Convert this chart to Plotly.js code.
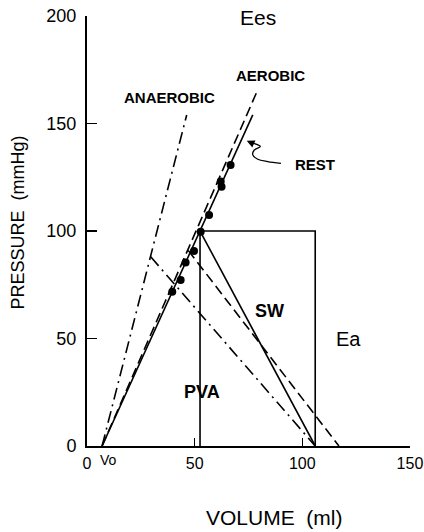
<!DOCTYPE html>
<html>
<head>
<meta charset="utf-8">
<script src="https://cdn.plot.ly/plotly-3.0.1.min.js"></script>
<style>html,body{margin:0;padding:0;background:#fff;}#chart{width:424px;height:532px;}</style>
</head>
<body>
<div id="chart"></div>
<script>
// ---- data (volume in ml, pressure in mmHg) ----
const vo = 7;
// end-systolic P-V relations (Ees)
const restEesX = [vo, 77];
const restEesY = [0, 154];
const aerobicEesX = [vo, 79];
const aerobicEesY = [0, 165];
const anaerobicEesX = [vo, 46.3];
const anaerobicEesY = [0, 154];
// arterial elastance lines (Ea)
const restEaX = [52.5, 106];
const restEaY = [100, 0];
const aerobicEaX = [47, 117];
const aerobicEaY = [91, 0];
const anaerobicEaX = [29.6, 106];
const anaerobicEaY = [88, 0];
// rest pressure-volume loop (rectangle)
const loopX = [52.5, 52.5, 106, 106];
const loopY = [0, 100, 100, 0];
// measured end-systolic points
const dotX = [39.6, 43.5, 45.8, 49.7, 52.8, 56.7, 62.1, 62.5, 66.7];
const dotY = [71.8, 77.2, 85.3, 90.7, 99.7, 107.4, 123, 120.6, 130.7];
// squiggle pointer for REST label
const restPtrX = [90.1, 83.9, 79.3, 77.0, 77.7, 80.5, 76.2];
const restPtrY = [131.5, 132.3, 133.4, 135.4, 137.7, 139.3, 141.1];
// tick labels
const xTicks = [0, 50, 100, 150];
const yTicks = [0, 50, 100, 150, 200];

const FONT = "Liberation Sans, Arial, Helvetica, sans-serif";
const LW = 1.6;

function line(x, y, dash) {
  return {x: x, y: y, type: 'scatter', mode: 'lines',
    line: {color: '#000', width: LW, dash: dash || 'solid'},
    hoverinfo: 'skip', showlegend: false, cliponaxis: false};
}

const traces = [
  line(restEesX, restEesY, 'solid'),
  line(aerobicEesX, aerobicEesY, '10px,5px'),
  line(anaerobicEesX, anaerobicEesY, '12px,5px,2px,5px'),
  line(restEaX, restEaY, 'solid'),
  line(aerobicEaX, aerobicEaY, '10px,5px'),
  line(anaerobicEaX, anaerobicEaY, '12px,5px,2px,5px'),
  line(loopX, loopY, 'solid'),
  {x: restPtrX, y: restPtrY, type: 'scatter', mode: 'lines',
   line: {color: '#000', width: 1.3, shape: 'spline'}, hoverinfo: 'skip', showlegend: false},
  {x: dotX, y: dotY, type: 'scatter', mode: 'markers',
   marker: {color: '#000', size: 8}, hoverinfo: 'skip', showlegend: false, cliponaxis: false}
];

function lab(text, x, y, size, bold) {
  return {text: bold ? '<b>' + text + '</b>' : text, x: x, y: y, xref: 'x', yref: 'y',
    showarrow: false, xanchor: 'center', yanchor: 'middle',
    font: {family: FONT, size: size, color: '#000'}};
}

const annotations = [
  lab('Ees', 79.4, 199.5, 21, false),
  lab('AEROBIC', 85.3, 172.3, 15, true),
  lab('ANAEROBIC', 38.3, 162.2, 15, true),
  lab('REST', 105.8, 131.1, 15, true),
  lab('SW', 84.9, 62.6, 18, true),
  lab('Ea', 121.3, 49.6, 20, false),
  lab('PVA', 53.4, 25.1, 18, true),
  Object.assign(lab('Vo', 10.1, 0, 14, false), {yshift: -14}),
  {text: '', x: 74.2, y: 142.0, ax: 76.2, ay: 141.1, xref: 'x', yref: 'y', axref: 'x', ayref: 'y',
   showarrow: true, arrowhead: 2, arrowsize: 1.2, arrowwidth: 1.3, arrowcolor: '#000', standoff: 0},
  {text: 'PRESSURE&nbsp;&nbsp;(mmHg)', x: -0.2136, y: 0.5198, xref: 'paper', yref: 'paper',
   textangle: -90, showarrow: false, xanchor: 'center', yanchor: 'middle',
   font: {family: FONT, size: 18, color: '#000'}},
  {text: 'VOLUME&nbsp;&nbsp;(ml)', x: 0.581, y: -0.1674, xref: 'paper', yref: 'paper',
   showarrow: false, xanchor: 'center', yanchor: 'middle',
   font: {family: FONT, size: 21, color: '#000'}}
];

const layout = {
  width: 424, height: 532,
  margin: {l: 87, r: 14, t: 16, b: 86, pad: 0},
  paper_bgcolor: '#fff', plot_bgcolor: '#fff',
  showlegend: false,
  font: {family: FONT, color: '#000'},
  xaxis: {range: [0, 150.02], tickvals: xTicks, ticktext: xTicks.map(String),
    showgrid: false, zeroline: false, showline: true, linecolor: '#000', linewidth: 2,
    ticks: 'inside', ticklen: 8, tickwidth: 1.5, tickcolor: '#000', ticklabelstandoff: 2,
    ticklabeloverflow: 'allow',
    tickfont: {family: FONT, size: 16, color: '#000'}, fixedrange: true},
  yaxis: {range: [0, 200.02], tickvals: yTicks, ticktext: yTicks.map(String),
    showgrid: false, zeroline: false, showline: true, linecolor: '#000', linewidth: 2,
    ticks: 'inside', ticklen: 10, tickwidth: 1.5, tickcolor: '#000', ticklabelstandoff: 5,
    ticklabeloverflow: 'allow',
    tickfont: {family: FONT, size: 18, color: '#000'}, fixedrange: true},
  annotations: annotations
};

Plotly.newPlot('chart', traces, layout, {displayModeBar: false, staticPlot: true});
</script>
</body>
</html>
